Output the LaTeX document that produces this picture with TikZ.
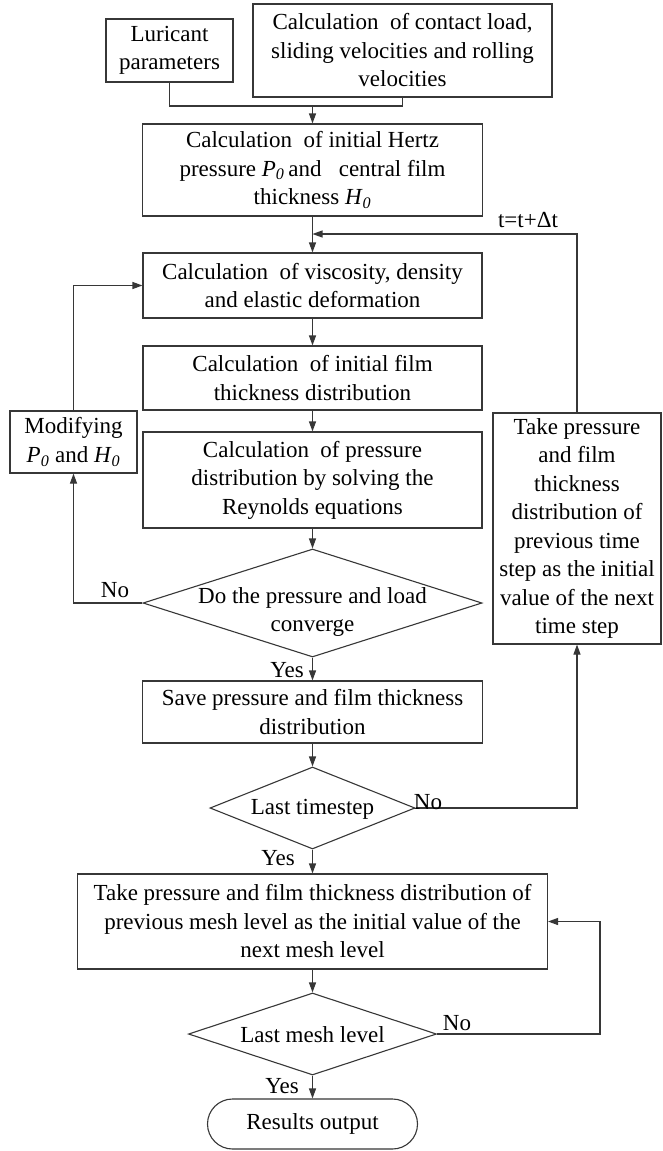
\documentclass[tikz,border=0pt]{standalone}
\usepackage{fontspec}
\setmainfont{Liberation Serif}
\usetikzlibrary{shapes.geometric,arrows.meta}
\definecolor{boxc}{RGB}{55,55,55}
\newcommand{\ItSub}[1]{\textit{#1}\textsubscript{\textit{0}}}
\begin{document}
\begin{tikzpicture}[x=1pt,y=-1pt,
  every node/.style={font=\fontsize{23}{28.5}\selectfont, text=black},
  box/.style={draw=boxc, line width=1.1pt, rectangle, align=center, inner sep=0pt},
  dia/.style={draw=boxc, line width=1.1pt, diamond, inner sep=0pt},
  txt/.style={align=center, inner sep=0pt},
  arr/.style={line width=1.1pt, draw=boxc, -{Triangle[length=10pt,width=7pt]}},
  ln/.style={line width=1.1pt, draw=boxc}]
\fill[white] (0,0) rectangle (662,1151);
\useasboundingbox (0,0) rectangle (662,1151);

\node[box, minimum width=127pt, minimum height=63pt] (lub) at (169.5,50.5) {Luricant\\parameters};
\node[box, minimum width=299pt, minimum height=93pt] (con) at (402.5,50.5) {Calculation\ \ of contact load,\\sliding velocities and rolling\\velocities};
\node[box, minimum width=340pt, minimum height=92pt] (her) at (312.5,170) {Calculation\ \ of initial Hertz\\pressure \ItSub{P}\,and\ \ \ central film\\thickness \ItSub{H}};
\node[box, minimum width=339pt, minimum height=65pt] (vis) at (312.5,285.5) {Calculation\ \ of viscosity, density\\and elastic deformation};
\node[box, minimum width=339pt, minimum height=64pt] (fil) at (312.5,378) {Calculation\ \ of initial film\\thickness distribution};
\node[box, minimum width=127pt, minimum height=62pt] (mod) at (73.5,442) {Modifying\\\ItSub{P} and \ItSub{H}};
\node[box, minimum width=339pt, minimum height=96pt] (pre) at (312.5,480) {Calculation\ \ of pressure\\distribution by solving the\\Reynolds equations};
\node[dia, minimum width=339pt, minimum height=108pt] (d1) at (312.5,603) {};
\node[txt] (d1t) at (312.5,612) {Do the pressure and load\\converge};
\node[box, minimum width=168pt, minimum height=231pt] (tak) at (577,528.5) {Take pressure\\and film\\thickness\\distribution of\\previous time\\step as the initial\\value of the next\\time step};
\node[box, minimum width=340pt, minimum height=62pt] (sav) at (312.5,712) {Save pressure and film thickness\\distribution};
\node[dia, minimum width=205pt, minimum height=82pt] (d2) at (312.5,808) {};
\node[txt] (d2t) at (312.5,809) {Last timestep};
\node[box, minimum width=470pt, minimum height=95pt] (mes) at (312.5,921.5) {Take pressure and film thickness distribution of\\previous mesh level as the initial value of the\\next mesh level};
\node[dia, minimum width=248pt, minimum height=82pt] (d3) at (312.5,1034) {};
\node[txt] (d3t) at (312.5,1035) {Last mesh level};
\node[box, rounded corners=25pt, minimum width=210pt, minimum height=50pt] (res) at (312.5,1124) {Results output};

\coordinate (m1) at (312.5,106);
\draw[ln] (lub.south) |- (m1);
\draw[ln] (con.south) |- (m1);
\draw[arr] (m1) -- (her.north);
\draw[arr] (her.south) -- (vis.north);
\coordinate (fb) at (312.5,234);
\draw[arr] (tak.north) |- (fb);
\node (tlab) at (528,220) {t=t+Δt};
\draw[arr] (vis.south) -- (fil.north);
\draw[arr] (fil.south) -- (pre.north);
\draw[arr] (pre.south) -- (d1.north);
\draw[arr] (d1.west) -| (mod.south);
\node (no1) at (115,590) {No};
\draw[arr] (mod.north) |- (vis.west);
\draw[arr] (d1.south) -- (sav.north);
\node (yes1) at (287,670) {Yes};
\draw[arr] (sav.south) -- (d2.north);
\draw[arr] (d2.east) -| (tak.south);
\node (no2) at (428,802) {No};
\draw[arr] (d2.south) -- (mes.north);
\node (yes2) at (278,858) {Yes};
\draw[arr] (mes.south) -- (d3.north);
\coordinate (r3) at (600,1034);
\draw[arr] (d3.east) -- (r3) |- (mes.east);
\node (no3) at (457,1023) {No};
\draw[arr] (d3.south) -- (res.north);
\node (yes3) at (282,1086) {Yes};
\end{tikzpicture}
\end{document}
